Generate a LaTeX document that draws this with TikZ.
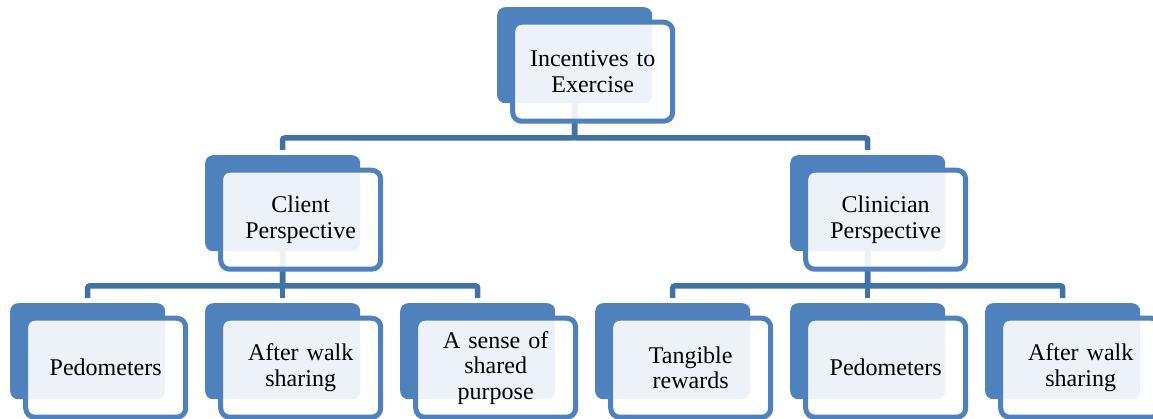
\documentclass[tikz,border=0pt]{standalone}
\usepackage{fontspec}
\setmainfont{Liberation Serif}
\usetikzlibrary{calc}
\pgfdeclarelayer{bg}
\pgfsetlayers{bg,main}
\definecolor{acc}{HTML}{4F81BD}
\definecolor{conncol}{RGB}{65,113,165}
\tikzset{
  backbox/.style={rectangle, rounded corners=8pt, fill=acc, draw=none,
    minimum width=155pt, minimum height=96pt, anchor=north west, inner sep=0pt},
  frontbox/.style={rectangle, rounded corners=9pt, draw=acc, line width=5pt,
    fill=white, fill opacity=0.9, draw opacity=1, text opacity=1,
    minimum width=160pt, minimum height=99pt, inner sep=0pt,
    text width=150pt, align=center, font=\fontsize{24}{25.5}\selectfont},
  conn/.style={draw=conncol, line width=5.5pt, shorten >=5pt, rounded corners=2pt}
}
\newcommand\mybox[4]{%
  \node[backbox] (#1) at (#2,#3) {};
  \node[frontbox] (#1f) at ($(#1.center)+(18,16.5)$) {#4};
}
\begin{document}
\begin{tikzpicture}[x=1pt,y=-1pt]
\useasboundingbox (0,0) rectangle (1153,419);
\mybox{top}{497}{7}{Incentives to\\Exercise}
\mybox{cl}{205}{155}{Client\\Perspective}
\mybox{cn}{790}{155}{Clinician\\Perspective}
\mybox{p1}{10}{303}{Pedometers}
\mybox{p2}{205}{303}{After walk\\sharing}
\mybox{p3}{400}{303}{A sense of\\shared\\purpose}
\mybox{p4}{595}{303}{Tangible\\rewards}
\mybox{p5}{790}{303}{Pedometers}
\mybox{p6}{985}{303}{After walk\\sharing}
\coordinate (j1) at (0,138);
\coordinate (j2) at (0,286);
\begin{pgfonlayer}{bg}
\draw[conn] (top.south) -- (top.south |- j1) -| (cl.north);
\draw[conn] (top.south) -- (top.south |- j1) -| (cn.north);
\draw[conn] (cl.south) -- (cl.south |- j2) -| (p1.north);
\draw[conn] (cl.south) -- (cl.south |- j2) -| (p2.north);
\draw[conn] (cl.south) -- (cl.south |- j2) -| (p3.north);
\draw[conn] (cn.south) -- (cn.south |- j2) -| (p4.north);
\draw[conn] (cn.south) -- (cn.south |- j2) -| (p5.north);
\draw[conn] (cn.south) -- (cn.south |- j2) -| (p6.north);
\end{pgfonlayer}
\end{tikzpicture}
\end{document}
